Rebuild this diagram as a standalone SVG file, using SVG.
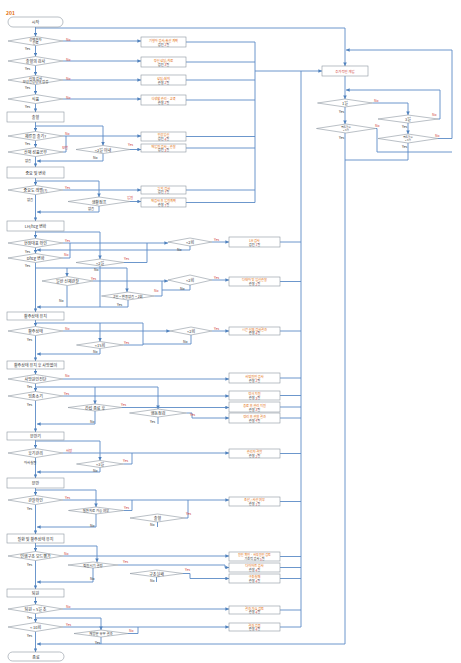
<svg xmlns="http://www.w3.org/2000/svg" width="461" height="663" viewBox="0 0 461 663">
<defs>
<marker id="a" viewBox="0 0 6 6" refX="6" refY="3" markerWidth="4" markerHeight="4" orient="auto"><path d="M0,0 L6,3 L0,6z" fill="#4f81bd"/></marker>
<style>
.s{fill:#fff;stroke:#8c96a0;stroke-width:0.6}
.c path{fill:none;stroke:#5b8bc6;stroke-width:0.9}
.c path.m{marker-end:url(#a)}
text{font-family:"Noto Sans CJK KR","Noto Sans",sans-serif;font-size:4px;text-anchor:middle;dominant-baseline:central;fill:#333}
.o{fill:#e36c09}
.r{fill:#d0403a}
.l{font-size:3.4px;text-anchor:start}
.lr{font-size:3.4px;text-anchor:start;fill:#d0403a}
.sm{font-size:2.6px}
</style>
</defs>
<rect width="461" height="663" fill="#fff"/>
<text x="6" y="12" class="o" style="text-anchor:start;font-weight:bold;font-size:5px">201</text>

<g class="c" id="connectors">
<path class="m" d="M35.5,27 V36.5"/>
<path class="m" d="M35.5,28 H345 V66"/>
<path class="m" d="M35.5,45.5 V56.5"/>
<path class="m" d="M35.5,65.5 V75.5"/>
<path class="m" d="M35.5,84.5 V94.5"/>
<path class="m" d="M35.5,103.5 V112"/>
<path class="m" d="M63,41 H141"/>
<path class="m" d="M63,61 H141"/>
<path class="m" d="M63,80 H141"/>
<path class="m" d="M63,99 H141"/>
<path class="m" d="M35.5,122 V131.5"/>
<path class="m" d="M35.5,126 H103 V145.5"/>
<path class="m" d="M35.5,140.5 V147.5"/>
<path class="m" d="M35.5,156.5 V167"/>
<path class="m" d="M103,153.5 V161 H37"/>
<path class="m" d="M63,136 H141"/>
<path d="M63,152 H66 V136"/>
<path class="m" d="M130,149.5 H141"/>
<path class="m" d="M35.5,178 V185.5"/>
<path class="m" d="M35.5,181 H99 V197"/>
<path class="m" d="M63,190 H141"/>
<path class="m" d="M130,201.5 H141"/>
<path class="m" d="M99,206 V212 H37"/>
<path class="m" d="M35.5,194.5 V221"/>
<path class="m" d="M35.5,231 V238.5"/>
<path class="m" d="M35.5,232 H100 V259"/>
<path class="m" d="M63,243 H168"/>
<path class="m" d="M212,242 H229"/>
<path class="m" d="M190,246 V250 H37"/>
<path class="m" d="M35.5,247.5 V253.5"/>
<path d="M63,258 H70 V243"/>
<path d="M124,262.5 H147 V243"/>
<path d="M100,266 V307"/>
<path class="m" d="M35.5,262.5 V312"/>
<path class="m" d="M35.5,268 H127 V292"/>
<path class="m" d="M67,268 V276.5"/>
<path class="m" d="M93,281 H168"/>
<path class="m" d="M212,280 H229"/>
<path d="M190,285 V290 H162 M162,281 V296 H154.5"/>
<path d="M67,285.5 V307"/>
<path class="m" d="M128,300 V307 H37"/>
<path class="m" d="M35.5,320 V326.5"/>
<path d="M35.5,323 H143 V345"/>
<path class="m" d="M100,323 V341.5"/>
<path class="m" d="M63,331 H170"/>
<path class="m" d="M212,331 H229"/>
<path d="M191,335 V344 H143"/>
<path d="M123.5,345 H143"/>
<path class="m" d="M100,348.5 V354 H37"/>
<path class="m" d="M35.5,335.5 V361"/>
<path class="m" d="M35.5,369 V374.5"/>
<path class="m" d="M63,379 H229"/>
<path class="m" d="M35.5,383.5 V391.5"/>
<path class="m" d="M35.5,387 H158 V409"/>
<path class="m" d="M95,387 V404"/>
<path class="m" d="M63,396 H229"/>
<path class="m" d="M122,407.5 H229"/>
<path class="m" d="M186.5,413 H192 V418 H229"/>
<path class="m" d="M95,411 V424 H37"/>
<path d="M158,417 V424"/>
<path class="m" d="M35.5,400.5 V432"/>
<path class="m" d="M35.5,440 V448.5"/>
<path class="m" d="M35.5,441 H100 V460.5"/>
<path class="m" d="M63,453 H229"/>
<path d="M123.5,464 H132 V453"/>
<path class="m" d="M100,467.5 V472 H37"/>
<path class="m" d="M35.5,457.5 V478"/>
<path class="m" d="M35.5,488 V495.5"/>
<path class="m" d="M35.5,490 H96 V507"/>
<path class="m" d="M63,500 H229"/>
<path d="M123.5,510.5 H132 V500"/>
<path d="M185,518 H188 V500"/>
<path class="m" d="M96,514 V527 H37"/>
<path d="M157.5,522 V527"/>
<path class="m" d="M35.5,504.5 V534"/>
<path class="m" d="M35.5,543 V551.5"/>
<path class="m" d="M35.5,546 H97 V562"/>
<path class="m" d="M63,556 H229"/>
<path class="m" d="M118,565 H225 V567.5 H229"/>
<path class="m" d="M183,573.5 H190 V578.5 H229"/>
<path class="m" d="M93,568 V582 H37"/>
<path d="M156.5,577 V582"/>
<path class="m" d="M35.5,560.5 V589"/>
<path class="m" d="M35.5,597 V604.5"/>
<path class="m" d="M63,609 H229"/>
<path class="m" d="M35.5,613.5 V622.5"/>
<path class="m" d="M35.5,618 H101 V630"/>
<path class="m" d="M63,627 H229"/>
<path d="M128,633.5 H138 V627"/>
<path d="M101,637 V644"/>
<path class="m" d="M35.5,631.5 V652"/>
<path class="m" d="M345,644 H37"/>
<path d="M186,42 H255 M186,62 H255 M186,80 H255 M186,100 H255 M186,136.5 H255 M186,148 H255 M186,190 H255 M186,202.5 H255 M255,42 V202.5"/>
<path class="m" d="M255,71 H322"/>
<path d="M301,71 V627 M280,242 H301 M280,281.5 H301 M280,331 H301 M280,378 H301 M280,395.5 H301 M280,407 H301 M280,418 H301 M280,453.5 H301 M280,501.5 H301 M280,556.5 H301 M280,567.5 H301 M280,578.5 H301 M280,610 H301 M280,627 H301"/>
<path class="m" d="M345,76 V99"/>
<path class="m" d="M372.5,103 H408 V115"/>
<path class="m" d="M438,119 H440 V90 H346"/>
<path class="m" d="M408,123 V134"/>
<path class="m" d="M438,138.5 H452 V50 H346"/>
<path d="M408,143 V160 H345"/>
<path class="m" d="M345,107 V124"/>
<path d="M375.5,128.5 H377 V152 H452"/>
<path d="M345,133 V644"/>
</g>

<g id="start"><rect class="s" x="8" y="17" width="55" height="10" rx="5"/><text x="35.5" y="22">시작</text></g>
<g id="end"><rect class="s" x="8" y="652" width="56" height="9" rx="4.5"/><text x="36" y="656.5">종료</text></g>

<g id="p1"><rect class="s" x="7" y="112" width="57" height="10"/><text x="35.5" y="117">출혈</text></g>
<g id="p2"><rect class="s" x="7" y="167" width="57" height="11"/><text x="35.5" y="172.5">중요 및 변화</text></g>
<g id="p3"><rect class="s" x="7" y="221" width="57" height="10"/><text x="35.5" y="226">LH/hcg 변화</text></g>
<g id="p4"><rect class="s" x="7" y="312" width="57" height="8"/><text x="35.5" y="316">활주상태 유지</text></g>
<g id="p5"><rect class="s" x="7" y="361" width="57" height="8"/><text x="35.5" y="365">활주상태 유지 후 사망없이</text></g>
<g id="p6"><rect class="s" x="7" y="432" width="57" height="8"/><text x="35.5" y="436">분만기</text></g>
<g id="p7"><rect class="s" x="7" y="478" width="57" height="10"/><text x="35.5" y="483">분만</text></g>
<g id="p8"><rect class="s" x="7" y="534" width="57" height="9"/><text x="35.5" y="538.5">질환 및 활주상태 유지</text></g>
<g id="p9"><rect class="s" x="7" y="589" width="57" height="8"/><text x="35.5" y="593">퇴원</text></g>

<g id="d1"><polygon class="s" points="8,41 35.5,36.5 63,41 35.5,45.5"/><text x="35.5" y="39.3" style="font-size:3.4px">공백환자</text><text x="35.5" y="42.8" style="font-size:3.4px">진료</text><text class="lr" x="66" y="39">No</text><text class="l" x="25" y="48.5">Yes</text></g>
<g id="d2"><polygon class="s" points="8,61 35.5,56.5 63,61 35.5,65.5"/><text x="35.5" y="61">출혈의 검사</text><text class="lr" x="66" y="59">No</text><text class="l" x="25" y="68">Yes</text></g>
<g id="d3"><polygon class="s" points="8,80 35.5,75.5 63,80 35.5,84.5"/><text x="35.5" y="78.3" style="font-size:3.4px">신체 검사</text><text x="35.5" y="81.8" style="font-size:3.4px">모성건강상태 점검</text><text class="lr" x="66" y="78">No</text><text class="l" x="25" y="87">Yes</text></g>
<g id="d4"><polygon class="s" points="8,99 35.5,94.5 63,99 35.5,103.5"/><text x="35.5" y="99">식품</text><text class="lr" x="66" y="97">No</text><text class="l" x="25" y="106">Yes</text></g>
<g id="d5"><polygon class="s" points="8,136 35.5,131.5 63,136 35.5,140.5"/><text x="35.5" y="136">제류들 출기?</text><text class="lr" x="65" y="133">No</text><text class="l" x="25" y="143">Yes</text></g>
<g id="d6"><polygon class="s" points="8,152 35.5,147.5 63,152 35.5,156.5"/><text x="35.5" y="152">산재 성품공무</text><text class="lr" x="62" y="147.5">보험</text><text class="l" x="25" y="160">없음</text></g>
<g id="d7"><polygon class="s" points="8,190 35.5,185.5 63,190 35.5,194.5"/><text x="35.5" y="190">중요도 레벨(?)</text><text class="lr" x="65" y="187.5">Yes</text><text class="l" x="27" y="199">없음</text></g>
<g id="d8"><polygon class="s" points="8,243 35.5,238.5 63,243 35.5,247.5"/><text x="35.5" y="243">현장대표 확인</text><text class="lr" x="65" y="240">Yes</text><text class="l" x="25" y="251">Yes</text></g>
<g id="d9"><polygon class="s" points="8,258 35.5,253.5 63,258 35.5,262.5"/><text x="35.5" y="258">Dhcg 변화</text><text class="lr" x="64" y="254.5">No</text><text class="l" x="25" y="265.5">Yes</text></g>
<g id="d10"><polygon class="s" points="8,331 35.5,326.5 63,331 35.5,335.5"/><text x="35.5" y="331">활주상태</text><text class="lr" x="65" y="328">No</text><text class="l" x="27" y="339">Yes</text></g>
<g id="d11"><polygon class="s" points="8,379 35.5,374.5 63,379 35.5,383.5"/><text x="35.5" y="379">사망원인진단</text><text class="lr" x="65" y="375.5">No</text><text class="l" x="27" y="386.5">Yes</text></g>
<g id="d12"><polygon class="s" points="8,396 35.5,391.5 63,396 35.5,400.5"/><text x="35.5" y="396">임종소기</text><text class="lr" x="64" y="393">Yes</text><text class="l" x="27" y="404.5">Yes</text></g>
<g id="d13"><polygon class="s" points="8,453 35.5,448.5 63,453 35.5,457.5"/><text x="35.5" y="453">후기관리</text><text class="lr" x="66" y="450">사망</text><text class="l" x="24" y="462">아사실됨</text></g>
<g id="d14"><polygon class="s" points="8,500 35.5,495.5 63,500 35.5,504.5"/><text x="35.5" y="500">관찰확인</text><text class="lr" x="65" y="497.5">Yes</text><text class="l" x="27" y="508">Yes</text></g>
<g id="d15"><polygon class="s" points="8,556 35.5,551.5 63,556 35.5,560.5"/><text x="35.5" y="556">인행구조 모드평가</text><text class="lr" x="64" y="553">No</text><text class="l" x="27" y="564">Yes</text></g>
<g id="d16"><polygon class="s" points="8,609 35.5,604.5 63,609 35.5,613.5"/><text x="35.5" y="609">퇴원 &lt; 5일 조</text><text class="lr" x="66" y="606">No</text><text class="l" x="27" y="617">Yes</text></g>
<g id="d17"><polygon class="s" points="8,627 35.5,622.5 63,627 35.5,631.5"/><text x="35.5" y="627">&lt; 10회</text><text class="lr" x="66" y="624">Yes</text><text class="l" x="27" y="635.5">Yes</text></g>

<g id="s1"><polygon class="s" points="76,149.5 103,145.5 130,149.5 103,153.5"/><text x="103" y="149.5">&lt;2일 이내</text><text class="lr" x="128" y="144.5">Yes</text><text class="l" x="93" y="157">No</text></g>
<g id="s2"><polygon class="s" points="68,201.5 99,197 130,201.5 99,206"/><text x="99" y="201.5">생활점프</text><text class="lr" x="127" y="197">입원</text><text class="l" x="88" y="208.5">없음</text></g>
<g id="s3"><polygon class="s" points="76,262.5 100,259 124,262.5 100,266"/><text x="100" y="262.5">&lt;2일</text><text class="lr" x="124" y="258.5">Yes</text><text class="l" x="94" y="269">No</text></g>
<g id="s4"><polygon class="s" points="168,242 190,238 212,242 190,246"/><text x="190" y="242">&lt;2회</text><text class="lr" x="214" y="239.5">Yes</text><text class="l" x="177" y="249">No</text></g>
<g id="s5"><polygon class="s" points="42,281 67.5,276.5 93,281 67.5,285.5"/><text x="67.5" y="281">일반 신체관찰</text><text class="lr" x="91" y="278">Yes</text><text class="l" x="59" y="300">No</text></g>
<g id="s6"><polygon class="s" points="168,280 190,275 212,280 190,285"/><text x="190" y="280">&lt;2회</text><text class="lr" x="214" y="277.5">Yes</text><text class="l" x="180" y="288">No</text></g>
<g id="s7"><polygon class="s" points="101.5,296 128,292 154.5,296 128,300"/><text x="128" y="296" style="font-size:3.4px">3일 ~ 변동없음 ~ 2회</text><text class="lr" x="154" y="290">No</text><text class="l" x="117" y="304.5">Yes</text></g>
<g id="s8"><polygon class="s" points="170,331 191,327 212,331 191,335"/><text x="191" y="331">&lt;2회</text><text class="lr" x="214" y="328">Yes</text><text class="l" x="183" y="341.5">No</text></g>
<g id="s9"><polygon class="s" points="76.5,345 100,341.5 123.5,345 100,348.5"/><text x="100" y="345">&lt;15회</text><text class="lr" x="124" y="342">Yes</text><text class="l" x="93" y="351.5">No</text></g>
<g id="s10"><polygon class="s" points="68,407.5 95,404 122,407.5 95,411"/><text x="95" y="407.5">간섭 종료 후</text><text class="lr" x="121" y="404">Yes</text><text class="l" x="90" y="421">No</text></g>
<g id="s11"><polygon class="s" points="129.5,413 158,409 186.5,413 158,417"/><text x="158" y="413">행동점검</text><text class="lr" x="190" y="414.5">Yes</text><text class="l" x="150" y="421">Yes</text></g>
<g id="s12"><polygon class="s" points="76.5,464 100,460.5 123.5,464 100,467.5"/><text x="100" y="464">&lt;3일</text><text class="lr" x="123" y="460.5">Yes</text><text class="l" x="93" y="470">No</text></g>
<g id="s13"><polygon class="s" points="68.5,510.5 96,507 123.5,510.5 96,514"/><text x="96" y="510.5" style="font-size:3.4px">질환치료 가능 여부</text><text class="lr" x="124" y="507.5">Yes</text><text class="l" x="90" y="525">No</text></g>
<g id="s14"><polygon class="s" points="130,518 157.5,514 185,518 157.5,522"/><text x="157.5" y="518">출혈</text><text class="lr" x="186" y="513.5">Yes</text><text class="l" x="150" y="524.5">No</text></g>
<g id="s15"><polygon class="s" points="68,565 93,562 118,565 93,568"/><text x="93" y="565" style="font-size:3.4px">퇴원시기 결정</text><text class="lr" x="123" y="561.5">Yes</text><text class="l" x="90" y="578">No</text></g>
<g id="s16"><polygon class="s" points="130,573.5 156.5,570 183,573.5 156.5,577"/><text x="156.5" y="573.5">구조실패</text><text class="lr" x="185" y="569">Yes</text><text class="l" x="150" y="580.5">No</text></g>
<g id="s17"><polygon class="s" points="74,633.5 101,630 128,633.5 101,637"/><text x="101" y="633.5" style="font-size:3.4px">재방문 유무 결과</text><text class="lr" x="129" y="630">No</text><text class="l" x="95" y="642">Yes</text></g>

<g id="b1"><rect class="s" x="141" y="37" width="45" height="10"/><text x="163.5" y="40" class="o" style="font-size:3.2px">기형아 검사/출산 계획</text><text x="163.5" y="44.2" style="font-size:3.2px">검진 <tspan class="r">2</tspan>일</text></g>
<g id="b2"><rect class="s" x="141" y="57" width="45" height="10"/><text x="163.5" y="60" class="o" style="font-size:3.2px">정신 상담/치료</text><text x="163.5" y="64.2" style="font-size:3.2px">검진 <tspan class="r">3</tspan>일</text></g>
<g id="b3"><rect class="s" x="141" y="75" width="45" height="10"/><text x="163.5" y="78" class="o" style="font-size:3.2px">상담/처치</text><text x="163.5" y="82.2" style="font-size:3.2px">관찰 <tspan class="r">2</tspan>일</text></g>
<g id="b4"><rect class="s" x="141" y="95" width="45" height="10"/><text x="163.5" y="98" class="o" style="font-size:3.2px">식생활 관리 · 교육</text><text x="163.5" y="102.2" style="font-size:3.2px">관찰 <tspan class="r">2</tspan>일</text></g>
<g id="b5"><rect class="s" x="141" y="132" width="45" height="9"/><text x="163.5" y="134.7" class="o" style="font-size:3.2px">인공임신</text><text x="163.5" y="138.6" style="font-size:3.2px">검진 <tspan class="r">4</tspan>일</text></g>
<g id="b6"><rect class="s" x="141" y="144" width="45" height="8"/><text x="163.5" y="146.3" class="o" style="font-size:3.2px">재입원 검사 · 관찰</text><text x="163.5" y="149.9" style="font-size:3.2px">검진 <tspan class="r">3</tspan>일</text></g>
<g id="b7"><rect class="s" x="141" y="186" width="45" height="8"/><text x="163.5" y="188.3" class="o" style="font-size:3.2px">그 외 검사</text><text x="163.5" y="191.9" style="font-size:3.2px">검진 <tspan class="r">7</tspan>일</text></g>
<g id="b8"><rect class="s" x="141" y="198" width="45" height="9"/><text x="163.5" y="200.6" class="o" style="font-size:3.2px">재검사 후 입원계획</text><text x="163.5" y="204.5" style="font-size:3.2px">관찰 <tspan class="r">7</tspan>일</text></g>

<g id="c1"><rect class="s" x="229" y="237" width="51" height="10"/><text x="254.5" y="240" class="o" style="font-size:3.2px">LH 검사</text><text x="254.5" y="244.2" style="font-size:3.2px">검진 <tspan class="r">1</tspan>일</text></g>
<g id="c2"><rect class="s" x="229" y="277" width="51" height="9"/><text x="254.5" y="279.6" class="o" style="font-size:3.2px">다태아 및 임신관찰</text><text x="254.5" y="283.5" style="font-size:3.2px">관찰 <tspan class="r">2</tspan>일</text></g>
<g id="c3"><rect class="s" x="229" y="327" width="51" height="8"/><text x="254.5" y="329.3" class="o" style="font-size:3.2px">시간 신체 검사결과</text><text x="254.5" y="332.9" style="font-size:3.2px">관찰 <tspan class="r">4</tspan>일</text></g>
<g id="c4"><rect class="s" x="229" y="373" width="51" height="10"/><text x="254.5" y="376" class="o" style="font-size:3.2px">사망원인 검사</text><text x="254.5" y="380.2" style="font-size:3.2px">관찰 <tspan class="r">2</tspan>일</text></g>
<g id="c5"><rect class="s" x="229" y="391" width="51" height="9"/><text x="254.5" y="393.6" class="o" style="font-size:3.2px">정서 지원</text><text x="254.5" y="397.5" style="font-size:3.2px">관찰 <tspan class="r">3</tspan>일</text></g>
<g id="c6"><rect class="s" x="229" y="402" width="51" height="10"/><text x="254.5" y="405" class="o" style="font-size:3.2px">종료 후 관리 지원</text><text x="254.5" y="409.2" style="font-size:3.2px">관찰 <tspan class="r">3</tspan>일</text></g>
<g id="c7"><rect class="s" x="229" y="413" width="51" height="10"/><text x="254.5" y="416" class="o" style="font-size:3.2px">정리 후 관찰 결과</text><text x="254.5" y="420.2" style="font-size:3.2px">관찰 <tspan class="r">4</tspan>일</text></g>
<g id="c8"><rect class="s" x="229" y="449" width="51" height="9"/><text x="254.5" y="451.6" class="o" style="font-size:3.2px">관리자 결함</text><text x="254.5" y="455.5" style="font-size:3.2px">관찰 <tspan class="r">2</tspan>일</text></g>
<g id="c9"><rect class="s" x="229" y="497" width="51" height="9"/><text x="254.5" y="499.6" class="o" style="font-size:3.2px">조산 / 사산 여부</text><text x="254.5" y="503.5" style="font-size:3.2px">관찰 <tspan class="r">1</tspan>일</text></g>
<g id="c10"><rect class="s" x="229" y="552" width="51" height="9"/><text x="254.5" y="554.6" class="o" style="font-size:3.1px">원인 확인 · 사망원인 검토</text><text x="254.5" y="558.5" style="font-size:3.1px">기초적 검사 <tspan class="r">5</tspan>일</text></g>
<g id="c11"><rect class="s" x="229" y="563" width="51" height="9"/><text x="254.5" y="565.6" class="o" style="font-size:3.2px">다이어트 검사</text><text x="254.5" y="569.5" style="font-size:3.2px">관찰 <tspan class="r">4</tspan>일</text></g>
<g id="c12"><rect class="s" x="229" y="574" width="51" height="9"/><text x="254.5" y="576.6" class="o" style="font-size:3.2px">구조실패</text><text x="254.5" y="580.5" style="font-size:3.2px">관찰 <tspan class="r">4</tspan>일</text></g>
<g id="c13"><rect class="s" x="229" y="606" width="51" height="8"/><text x="254.5" y="608.3" class="o" style="font-size:3.2px">결과 가능 검토</text><text x="254.5" y="611.9" style="font-size:3.2px">관찰 <tspan class="r">4</tspan>일</text></g>
<g id="c14"><rect class="s" x="229" y="623" width="51" height="8"/><text x="254.5" y="625.3" class="o" style="font-size:3.2px">결과 검증</text><text x="254.5" y="628.9" style="font-size:3.2px">관찰 <tspan class="r">4</tspan>일</text></g>

<g id="r0"><rect class="s" x="322" y="66" width="46" height="10"/><text x="345" y="71" class="r" style="font-size:3.4px">추가적인 개입</text></g>
<g id="ra"><polygon class="s" points="317.5,103 345,99 372.5,103 345,107"/><text x="345" y="103">1일</text><text class="lr" x="374" y="100.5">No</text><text class="l" x="339" y="111.5">Yes</text></g>
<g id="rb"><polygon class="s" points="378,119 408,115 438,119 408,123"/><text x="408" y="119">3일</text><text class="lr" x="432" y="114">No</text><text class="l" x="402" y="126">Yes</text></g>
<g id="rc"><polygon class="s" points="316.5,128.5 346,124 375.5,128.5 346,133"/><text class="sm" x="346" y="126.6">행동점수</text><text class="sm" x="346" y="130.4">&lt; 3점</text><text class="lr" x="375" y="125">No</text><text class="l" x="339" y="137">Yes</text></g>
<g id="rd"><polygon class="s" points="378,138.5 408,134 438,138.5 408,143"/><text class="sm" x="408" y="136.6">행동점수</text><text class="sm" x="408" y="140.4">&lt; 3점</text><text class="lr" x="435" y="135.5">No</text><text class="l" x="402" y="146">Yes</text></g>
</svg>
